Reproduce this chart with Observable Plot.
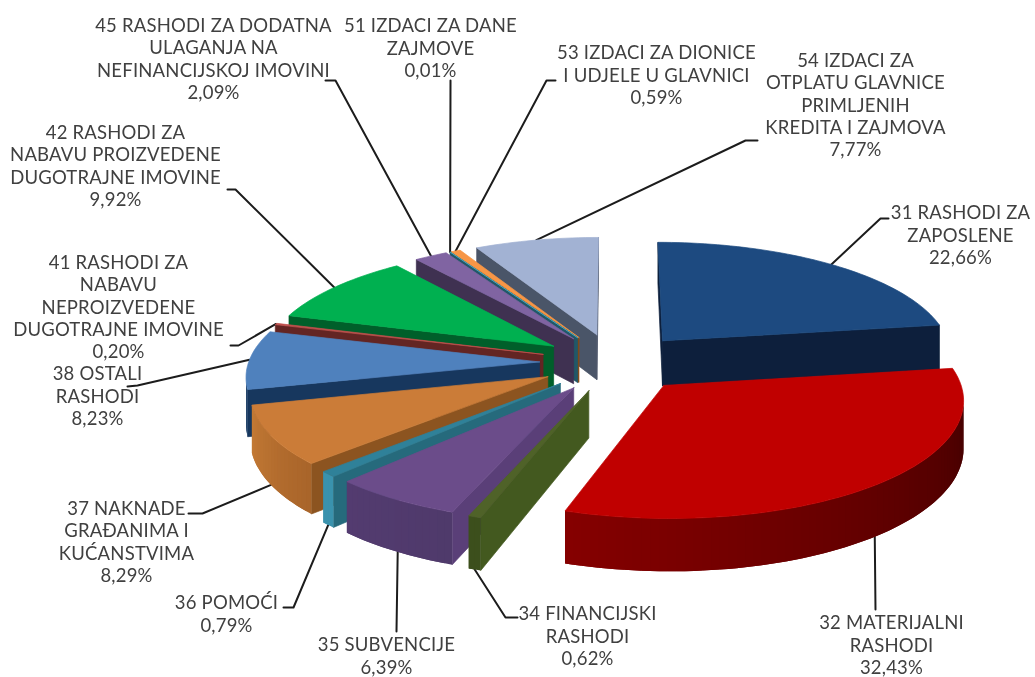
<!DOCTYPE html>
<html>
<head>
<meta charset="utf-8">
<script src="https://cdn.jsdelivr.net/npm/d3@7"></script>
<script src="https://cdn.jsdelivr.net/npm/@observablehq/plot@0.6"></script>
<style>html,body{margin:0;padding:0;background:#fff}</style>
</head>
<body>
<div id="chart"></div>
<script>
// ---- data ----
const names = [
  "31 RASHODI ZA\nZAPOSLENE",
  "32 MATERIJALNI\nRASHODI",
  "34 FINANCIJSKI\nRASHODI",
  "35 SUBVENCIJE",
  "36 POMOĆI",
  "37 NAKNADE\nGRAĐANIMA I\nKUĆANSTVIMA",
  "38 OSTALI\nRASHODI",
  "41 RASHODI ZA\nNABAVU\nNEPROIZVEDENE\nDUGOTRAJNE IMOVINE",
  "42 RASHODI ZA\nNABAVU PROIZVEDENE\nDUGOTRAJNE IMOVINE",
  "45 RASHODI ZA DODATNA\nULAGANJA NA\nNEFINANCIJSKOJ IMOVINI",
  "51 IZDACI ZA DANE\nZAJMOVE",
  "53 IZDACI ZA DIONICE\nI UDJELE U GLAVNICI",
  "54 IZDACI ZA\nOTPLATU GLAVNICE\nPRIMLJENIH\nKREDITA I ZAJMOVA"
];
const shares = [22.66, 32.43, 0.62, 6.39, 0.79, 8.29, 8.23, 0.20, 9.92, 2.09, 0.01, 0.59, 7.77];

// ---- styles ----
const topColors  = ["#1d4a80","#c00000","#4f6228","#6b4c8a","#2f8199","#cb7c38","#4f81bd","#c0504d","#00b050","#8064a2","#4bacc6","#f79646","#a2b2d3"];
const wallColors = ["#0d1f3c","#7a0000","#43591f","#5a3f78","#266a7c","#8c5420","#17375e","#632523","#005f2a","#3f3151","#215868","#974806","#4a5568"];
const rimFrom    = ["#0d1f3c","#3c0000","#3c4f1c","#4f3a6b","#3a92ad","#a9652a","#1d3f66","#632523","#005f2a","#3f3151","#215868","#974806","#4a5568"];
const rimTo      = ["#0d1f3c","#860000","#3c4f1c","#533b70","#3a92ad","#c47a35","#1d3f66","#632523","#005f2a","#3f3151","#215868","#974806","#4a5568"];

// ---- layout: label block centres and the label-side leader vertices ----
const labelX = [960, 891, 587, 386, 226, 126, 97, 118, 115, 213, 430, 656, 855];
const labelY = [234, 644, 635, 655, 613, 541, 395, 306, 165, 58, 47, 74, 104];
const leaderEnds = [
  [[880,218],[888,218]], [[875,609]], [[505,617],[517,617]], [[396,631]],
  [[293,607],[283,607]], [[202,513],[188,513]], [[137,385],[127,386]], [[238,345],[230,345]],
  [[235,189],[227,189]], [[335,80],[325,80]], [[450,80]], [[546,80],[555,80]], [[745,140],[757,140]]
];
const leaderTurn = [0, 0.6, 0, -0.6, 0, 0, 0, 0, 0, 0, 0, 0, 0];

// ---- 3D pie model ----
const W = 1035, H = 677;
const cx = 614, cy = 362, R = 291, explode = 75, tilt = 0.39, persp = 0.00037, depth = 46;
const camY = -1 / persp;
const rad = d => d * Math.PI / 180;
const total = d3.sum(shares);
const project = (X, Y, z = 0) => {
  const k = 1 / (1 + persp * Y);
  return {x: cx + X * k, y: cy - Y * tilt * k + z * depth * k};
};

let cum = 0;
const slices = shares.map((v, i) => {
  const a0 = cum / total * 360; cum += v;
  const a1 = cum / total * 360, m = (a0 + a1) / 2;
  return {i, a0, a1, m, ax: explode * Math.sin(rad(m)), ay: explode * Math.cos(rad(m))};
});
const rimPt = (s, a) => [s.ax + R * Math.sin(rad(a)), s.ay + R * Math.cos(rad(a))];
const arcAngles = s => {
  const n = Math.max(1, Math.ceil((s.a1 - s.a0) / 1.5));
  return d3.range(n + 1).map(j => s.a0 + (s.a1 - s.a0) * j / n);
};

const polys = [];
let pid = 0;
const addPoly = (pts, color, sw = 0.7) => {
  const id = pid++;
  [...pts, pts[0]].forEach(p => polys.push({id, x: p.x, y: p.y, color, sw}));
};
const facing = (nx, ny, P) => nx * (0 - P[0]) + ny * (camY - P[1]) > 0;
const radialWall = (s, a, nx, ny) => {
  const A = [s.ax, s.ay], B = rimPt(s, a);
  if (!facing(nx, ny, [(A[0] + B[0]) / 2, (A[1] + B[1]) / 2])) return;
  addPoly([project(...A), project(...B), project(...B, 1), project(...A, 1)], wallColors[s.i]);
};

[...slices].sort((p, q) => q.ay - p.ay).forEach(s => {
  radialWall(s, s.a0, -Math.cos(rad(s.a0)), Math.sin(rad(s.a0)));
  radialWall(s, s.a1, Math.cos(rad(s.a1)), -Math.sin(rad(s.a1)));
  const as = arcAngles(s);
  const shade = d3.interpolateRgb(rimFrom[s.i], rimTo[s.i]);
  for (let j = 0; j < as.length - 1; j++) {
    const mid = (as[j] + as[j + 1]) / 2, P = rimPt(s, mid);
    if (!facing(Math.sin(rad(mid)), Math.cos(rad(mid)), P)) continue;
    // each strip overlaps the next one, so no seam shows between them
    const p0 = rimPt(s, as[j]), p1 = rimPt(s, as[Math.min(j + 1, as.length - 1)]), p2 = rimPt(s, as[Math.min(j + 2, as.length - 1)]);
    addPoly([project(...p0), project(...p1), project(...p2), project(...p2, 1), project(...p1, 1), project(...p0, 1)], shade(j / (as.length - 1)), 0);
  }
  addPoly([project(s.ax, s.ay), ...as.map(a => project(...rimPt(s, a)))], topColors[s.i]);
});

// leaders: start on the rim at each slice's middle angle
const leaders = slices.flatMap(s => {
  const a = s.m + leaderTurn[s.i], P = rimPt(s, a);
  const start = project(P[0], P[1], Math.cos(rad(a)) < -0.1 ? 1 : 0);
  return [start, ...leaderEnds[s.i].map(([x, y]) => ({x, y}))].map(p => ({id: s.i, x: p.x, y: p.y}));
});

const labels = slices.map(s => ({
  x: labelX[s.i], y: labelY[s.i],
  text: names[s.i] + "\n" + shares[s.i].toFixed(2).replace(".", ",") + "%"
}));

const plot = Plot.plot({
  width: W, height: H,
  marginTop: 0, marginRight: 0, marginBottom: 0, marginLeft: 0,
  x: {domain: [0, W], range: [0, W], axis: null},
  y: {domain: [0, H], range: [0, H], axis: null},
  color: {type: "identity"},
  style: {background: "#fff", filter: "blur(0.45px)", letterSpacing: "0.2px"},
  marks: [
    Plot.line(leaders, {x: "x", y: "y", z: "id", stroke: "#1c1c1c", strokeWidth: 2, curve: "linear"}),
    Plot.line(polys, {x: "x", y: "y", z: "id", fill: "color", stroke: "color", strokeWidth: "sw", strokeLinejoin: "round", curve: "linear"}),
    Plot.text(labels, {
      x: "x", y: "y", text: "text",
      fontFamily: "Lato", fontSize: 18.5, lineHeight: 1.21, lineAnchor: "middle",
      textAnchor: "middle", fill: "#404040"
    })
  ]
});
document.getElementById("chart").append(plot);
</script>
</body>
</html>
